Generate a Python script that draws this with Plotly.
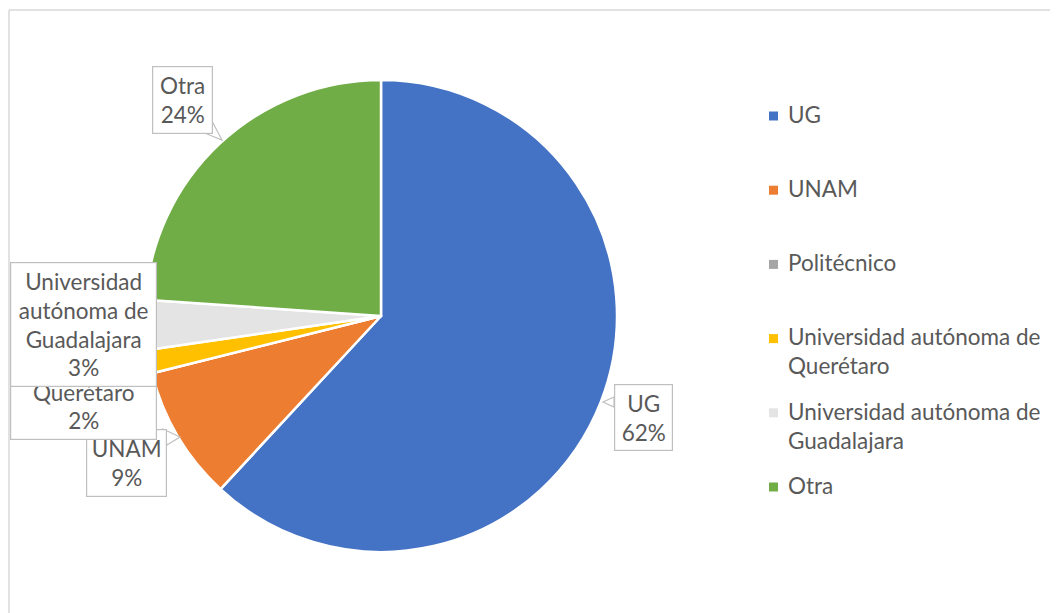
import plotly.graph_objects as go

W, H = 1058, 613
OFF = 8  # page body margin that offsets the figure in the window

# ---- data ----
categories = ["UG", "UNAM", "Politécnico", "Universidad autónoma de Querétaro",
              "Universidad autónoma de Guadalajara", "Otra"]
values = [61.9, 9.2, 0.0, 1.6, 3.4, 23.9]
colors = ["#4472C4", "#ED7D31", "#A5A5A5", "#FFC000", "#E4E4E4", "#70AD47"]
legend_lines = [["UG"], ["UNAM"], ["Politécnico"],
                ["Universidad autónoma de", "Querétaro"],
                ["Universidad autónoma de", "Guadalajara"], ["Otra"]]
# the first lines of the Querétaro label are hidden behind the Guadalajara box
label_lines = {"UG": ["UG"], "UNAM": ["UNAM"],
               "Universidad autónoma de Querétaro": ["\u00a0", "\u00a0", "Querétaro"],
               "Universidad autónoma de Guadalajara": ["Universidad", "autónoma de", "Guadalajara"],
               "Otra": ["Otra"]}

TXT = "#595959"
FONT = "Lato"
FS = 22.5


def px(x):
    return (x - OFF) / W


def py(y):
    return 1 - (y - OFF) / H


fig = go.Figure(go.Pie(
    labels=categories, values=values, sort=False, direction="clockwise", rotation=0,
    marker=dict(colors=colors, line=dict(color="white", width=2.5)),
    textinfo="none", hoverinfo="label+percent", showlegend=False,
    domain=dict(x=[px(145), px(617)], y=[py(552), py(80)]),
))

total = sum(values)
pct = {c: f"{round(v / total * 100)}%" for c, v in zip(categories, values)}

# label box layout (pixels): center x, center y, width, height, tail polygon
boxes = [
    ("UNAM", 126.5, 463, 81, 68, [(167, 445), (180, 437), (163, 429)]),
    ("UG", 643.5, 417.5, 59, 67, [(614, 397), (603, 402), (614, 407)]),
    ("Otra", 182.5, 100, 61, 68, [(213, 123), (222, 140), (207, 134)]),
    ("Universidad autónoma de Querétaro", 83.5, 377.5, 147, 125, None),
    ("Universidad autónoma de Guadalajara", 83.5, 324.5, 147, 125, None),
]

shapes = []
annotations = []
for cat, cx, cy, bw, bh, tail in boxes:
    if tail:
        path = "M " + " L ".join(f"{px(x)},{py(y)}" for x, y in tail) + " Z"
        shapes.append(dict(type="path", xref="paper", yref="paper", path=path,
                           fillcolor="white", line=dict(color="#BFBFBF", width=1.2),
                           layer="above"))
    lines = label_lines[cat] + [pct[cat]]
    text = "<br>".join(f"<span style='font-size:{FS}px'>{l}</span>" for l in lines)
    annotations.append(dict(
        xref="paper", yref="paper", x=px(cx), y=py(cy), xanchor="center", yanchor="middle",
        text=text, showarrow=False, width=bw - 2, height=bh - 2, borderpad=0,
        bgcolor="white", bordercolor="#BFBFBF", borderwidth=1.2,
        font=dict(family=FONT, size=22, color=TXT), align="center", valign="middle",
    ))

# manual legend, evenly spaced like the original
leg_y0, leg_step, line_h = 114.5, 74.2, 28.6
for i, (lines, col) in enumerate(zip(legend_lines, colors)):
    yc = leg_y0 + i * leg_step
    shapes.append(dict(type="rect", xref="paper", yref="paper",
                       x0=px(769), x1=px(778), y0=py(yc - 3), y1=py(yc + 6),
                       fillcolor=col, line=dict(width=0)))
    mid = yc + (len(lines) - 1) * line_h / 2
    text = "<br>".join(f"<span style='font-size:{FS}px'>{l}</span>" for l in lines)
    annotations.append(dict(
        xref="paper", yref="paper", x=px(786), y=py(mid), xanchor="left", yanchor="middle",
        text=text, showarrow=False, align="left",
        font=dict(family=FONT, size=22, color=TXT),
    ))

# chart area border (top and left edges visible)
shapes.append(dict(type="line", xref="paper", yref="paper", x0=px(9), x1=px(1080),
                   y0=py(10), y1=py(10), line=dict(color="#D9D9D9", width=1.5)))
shapes.append(dict(type="line", xref="paper", yref="paper", x0=px(9), x1=px(9),
                   y0=py(10), y1=py(660), line=dict(color="#D9D9D9", width=1.5)))

fig.update_layout(
    width=W, height=H, margin=dict(l=0, r=0, t=0, b=0),
    paper_bgcolor="white", plot_bgcolor="white",
    shapes=shapes, annotations=annotations,
    font=dict(family=FONT, color=TXT),
)

fig.write_html("out.html")
